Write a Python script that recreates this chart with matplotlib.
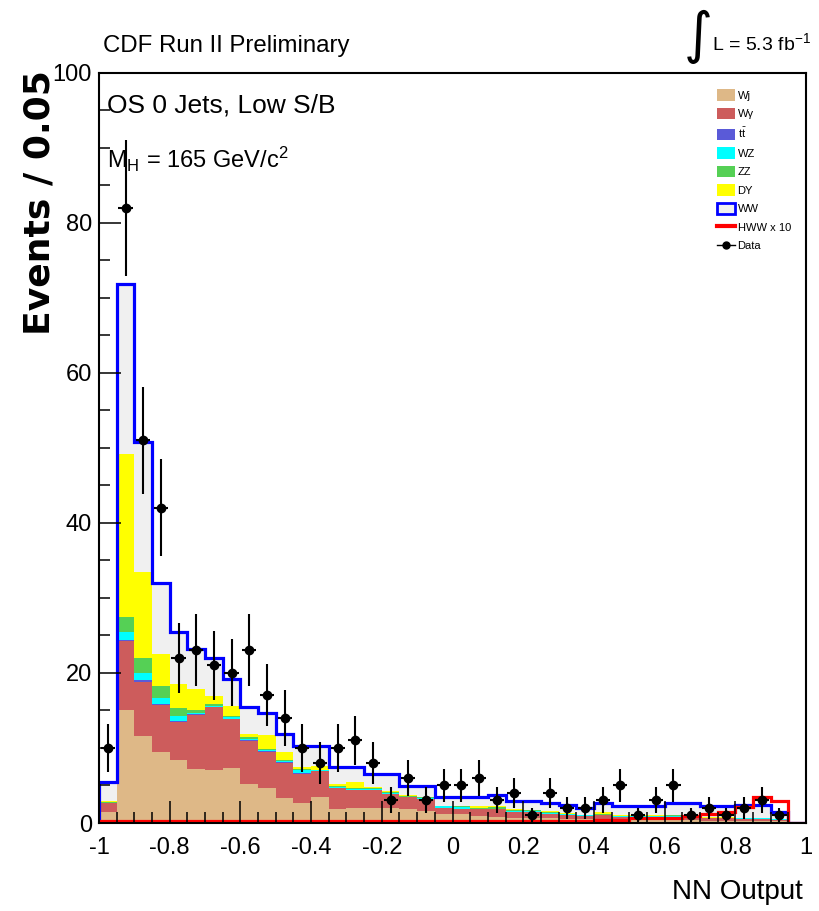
import numpy as np
import matplotlib
matplotlib.use("Agg")
import matplotlib.pyplot as plt
from matplotlib.patches import Patch
from matplotlib.lines import Line2D

plt.rcParams["font.family"] = ["Liberation Sans", "DejaVu Sans"]
plt.rcParams["axes.unicode_minus"] = False
plt.rcParams["mathtext.fontset"] = "custom"
plt.rcParams["mathtext.rm"] = "Liberation Sans"
plt.rcParams["mathtext.it"] = "Liberation Sans:italic"
plt.rcParams["mathtext.bf"] = "Liberation Sans:bold"

W, H = 819, 911  # canvas size in pixels


def fx(px):
    return px / W


def fy(py):
    return 1 - py / H


# =========================
# BINNING  (40 bins of 0.05 on [-1, 1])
# =========================

edges = np.linspace(-1.0, 1.0, 41)
centers = 0.5 * (edges[1:] + edges[:-1])

# =========================
# BACKGROUND PREDICTIONS (events per bin)
# =========================

wj = [1.5, 15.0, 11.6, 9.5, 8.4, 7.2, 7.0, 7.3, 5.2, 4.7,
      3.3, 2.7, 3.4, 1.8, 2.0, 2.0, 2.0, 1.8, 1.6, 1.2,
      1.2, 0.9, 0.8, 0.7, 0.7, 0.6, 0.5, 0.5, 0.5, 0.4,
      0.4, 0.4, 0.4, 0.4, 0.3, 0.3, 0.3, 0.3, 0.2, 0.0]
wgamma = [1.1, 9.2, 7.2, 6.2, 5.1, 7.2, 8.4, 6.5, 5.7, 4.8,
          4.7, 3.8, 3.5, 2.9, 2.4, 2.4, 1.9, 1.6, 1.6, 0.8,
          0.7, 0.9, 1.0, 0.8, 0.8, 0.6, 0.6, 0.4, 0.5, 0.4,
          0.4, 0.4, 0.4, 0.3, 0.3, 0.3, 0.2, 0.2, 0.2, 0.0]
ttbar = [0.0, 0.2, 0.2, 0.1, 0.1, 0.1, 0.1, 0.1, 0.1, 0.1,
         0.1, 0.1, 0.0, 0.0, 0.0, 0.0, 0.0, 0.0, 0.0, 0.0,
         0.0, 0.0, 0.0, 0.0, 0.0, 0.0, 0.0, 0.0, 0.0, 0.0,
         0.0, 0.0, 0.0, 0.0, 0.0, 0.0, 0.0, 0.0, 0.0, 0.0]
wz = [0.1, 1.1, 1.0, 0.8, 0.7, 0.2, 0.1, 0.2, 0.2, 0.1,
      0.1, 0.4, 0.1, 0.1, 0.1, 0.1, 0.1, 0.1, 0.1, 0.2,
      0.2, 0.1, 0.1, 0.1, 0.1, 0.1, 0.1, 0.1, 0.1, 0.1,
      0.1, 0.1, 0.1, 0.1, 0.1, 0.1, 0.1, 0.1, 0.1, 0.0]
zz = [0.1, 1.9, 2.0, 1.7, 1.0, 0.3, 0.2, 0.2, 0.2, 0.1,
      0.2, 0.2, 0.1, 0.1, 0.1, 0.1, 0.1, 0.1, 0.1, 0.1,
      0.1, 0.1, 0.2, 0.1, 0.1, 0.2, 0.0, 0.0, 0.1, 0.0,
      0.0, 0.0, 0.1, 0.0, 0.0, 0.0, 0.0, 0.0, 0.0, 0.0]
dy = [0.1, 21.8, 11.5, 4.2, 3.2, 2.8, 1.1, 1.3, 0.5, 1.9,
      1.0, 0.2, 0.5, 0.3, 0.8, 0.2, 0.2, 0.1, 0.1, 0.0,
      0.0, 0.3, 0.2, 0.1, 0.0, 0.1, 0.1, 0.1, 0.2, 0.1,
      0.1, 0.1, 0.1, 0.1, 0.1, 0.1, 0.1, 0.1, 0.0, 0.0]
ww = [2.6, 22.6, 17.2, 9.5, 7.0, 5.4, 5.1, 3.6, 3.6, 2.9,
      2.4, 2.9, 2.7, 2.2, 2.0, 1.7, 2.2, 1.2, 1.4, 1.1,
      1.3, 1.2, 1.4, 1.1, 1.2, 1.0, 1.1, 0.9, 1.3, 1.2,
      1.2, 1.3, 1.5, 1.7, 1.5, 1.5, 1.7, 1.7, 1.0, 0.0]

# Higgs signal (m_H = 165), scaled x10
hww_x10 = [0.2, 0.2, 0.2, 0.3, 0.3, 0.3, 0.3, 0.3, 0.3, 0.3,
           0.3, 0.3, 0.3, 0.3, 0.3, 0.3, 0.3, 0.3, 0.3, 0.3,
           0.3, 0.3, 0.3, 0.3, 0.3, 0.3, 0.3, 0.3, 0.4, 0.4,
           0.6, 0.6, 0.6, 0.9, 1.2, 1.5, 2.1, 3.4, 2.9, 0.0]

# observed events
data = [10, 82, 51, 42, 22, 23, 21, 20, 23, 17,
        14, 10, 8, 10, 11, 8, 3, 6, 3, 5,
        5, 6, 3, 4, 1, 4, 2, 2, 3, 5,
        1, 3, 5, 1, 2, 1, 2, 3, 1, 0]

x_ticks = [-1, -0.8, -0.6, -0.4, -0.2, 0, 0.2, 0.4, 0.6, 0.8, 1]
x_tick_labels = ["-1", "-0.8", "-0.6", "-0.4", "-0.2", "0", "0.2", "0.4", "0.6", "0.8", "1"]
y_ticks = [0, 20, 40, 60, 80, 100]

# =========================
# PLOT
# =========================

fig = plt.figure(figsize=(8.19, 9.11), dpi=100)
ax = fig.add_axes([fx(99), fy(823), fx(806) - fx(99), fy(72.5) - fy(823)])

stack = [
    (wj, "#deb887"),
    (wgamma, "#cd5c5c"),
    (ttbar, "#5a5ad8"),
    (wz, "#00ffff"),
    (zz, "#55d055"),
    (dy, "#ffff00"),
    (ww, "#f0f0f0"),
]

bottom = np.zeros(len(centers))
for vals, col in stack:
    top = bottom + np.array(vals)
    ax.stairs(top, edges, baseline=bottom, fill=True, color=col, lw=0)
    bottom = top

total = bottom
ax.stairs(total, edges, color="#0000ff", lw=2.3)
ax.stairs(hww_x10, edges, color="#ff0000", lw=2.3)

d = np.array(data, dtype=float)
m = d > 0
ax.errorbar(centers[m], d[m], yerr=np.sqrt(d[m]), xerr=0.02,
            fmt="o", color="black", ms=6, elinewidth=1.5, capsize=0, zorder=5)

ax.set_xlim(-1, 1)
ax.set_ylim(0, 100)
ax.set_xticks(x_ticks)
ax.set_xticklabels(x_tick_labels)
ax.set_yticks(y_ticks)
ax.set_xticks(edges, minor=True)
ax.set_yticks(np.arange(0, 101, 5), minor=True)

ax.tick_params(which="both", direction="in", top=False, right=False, width=1.1)
ax.tick_params(which="major", length=16, labelsize=17)
ax.tick_params(which="minor", length=8)
ax.tick_params(axis="x", pad=10)
ax.tick_params(axis="y", pad=5)
for s in ax.spines.values():
    s.set_linewidth(1.5)

# =========================
# LABELS
# =========================

fig.text(fx(40), fy(203), "Events / 0.05", rotation=90, ha="center", va="center",
         fontsize=26, fontweight="bold", family=["DejaVu Sans"])
fig.text(fx(803), fy(899), "NN Output", ha="right", va="baseline", fontsize=20)

fig.text(fx(103), fy(52), "CDF Run II Preliminary", ha="left", va="baseline", fontsize=17.3)
fig.text(fx(698), fy(37), "\u222b", ha="center", va="center", fontsize=40,
         family=["DejaVu Sans"])
fig.text(fx(712), fy(50), r"L = 5.3 fb$^{-1}$", ha="left", va="baseline", fontsize=14)

fig.text(fx(107), fy(113), "OS 0 Jets, Low S/B", ha="left", va="baseline", fontsize=19)
fig.text(fx(107), fy(168), r"M$_{\mathrm{H}}$ = 165 GeV/c$^{2}$", ha="left", va="baseline",
         fontsize=17)

# =========================
# LEGEND
# =========================

handles = [
    Patch(facecolor="#deb887", edgecolor="none"),
    Patch(facecolor="#cd5c5c", edgecolor="none"),
    Patch(facecolor="#5a5ad8", edgecolor="none"),
    Patch(facecolor="#00ffff", edgecolor="none"),
    Patch(facecolor="#55d055", edgecolor="none"),
    Patch(facecolor="#ffff00", edgecolor="none"),
    Patch(facecolor="#f0f0f0", edgecolor="#0000ff", lw=2),
    Line2D([], [], color="#ff0000", lw=3),
    Line2D([], [], color="black", marker="o", ms=5, lw=1),
]
labels = ["Wj", "W\u03b3", r"t$\bar{\mathrm{t}}$", "WZ", "ZZ", "DY", "WW", "HWW x 10", "Data"]

ax.legend(handles, labels, loc="upper left", bbox_to_anchor=(fx(717), fy(89)),
          bbox_transform=fig.transFigure, frameon=False, fontsize=8,
          handlelength=1.6, handleheight=1.25, labelspacing=0.61,
          handletextpad=0.25, borderpad=0, borderaxespad=0)

plt.savefig("out.png", dpi=100)
